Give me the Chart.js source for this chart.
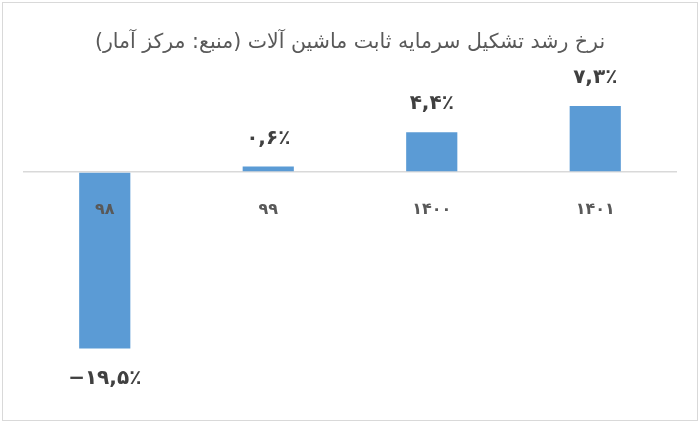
<!DOCTYPE html>
<html>
<head>
<meta charset="utf-8">
<script src="https://cdn.jsdelivr.net/npm/chart.js@4"></script>
<style>
  html, body { margin: 0; padding: 0; background: #fff; }
  #wrap { width: 700px; height: 424px; }
</style>
</head>
<body>
<div id="wrap"><canvas id="myChart" dir="rtl"></canvas></div>
<script>
// data
var years = ['۹۸', '۹۹', '۱۴۰۰', '۱۴۰۱'];
var growth = [-19.5, 0.6, 4.4, 7.3];
var chartTitle = 'نرخ رشد تشکیل سرمایه ثابت ماشین آلات (منبع: مرکز آمار)';

var faDigits = '۰۱۲۳۴۵۶۷۸۹';
function toFa(v) {
    var s = Math.abs(v).toFixed(1).replace('.', ',');
    s = s.replace(/[0-9]/g, function(d) { return faDigits[+d]; });
    return (v < 0 ? '−' : '') + s + '٪';
}

// draws value labels, category labels and the outer frame
var labelsPlugin = {
    id: 'labelsPlugin',
    afterDatasetsDraw: function(chart) {
        var ctx = chart.ctx;
        var x = chart.scales.x, y = chart.scales.y;
        var zero = y.getPixelForValue(0);
        ctx.save();
        ctx.direction = 'ltr';
        ctx.textAlign = 'center';
        ctx.textBaseline = 'middle';
        chart.getDatasetMeta(0).data.forEach(function(bar, i) {
            var v = growth[i];
            ctx.font = 'bold 20px "DejaVu Sans"';
            ctx.fillStyle = '#404040';
            var ly = v >= 0 ? bar.y - 28 : bar.y + 30;
            ctx.fillText(toFa(v), bar.x, ly);
            ctx.font = 'bold 16px "DejaVu Sans"';
            ctx.fillStyle = '#595959';
            ctx.fillText(years[i], x.getPixelForValue(i), zero + 38);
        });
        ctx.strokeStyle = '#d9d9d9';
        ctx.lineWidth = 1;
        ctx.strokeRect(2.5, 2.5, 695, 418);
        ctx.restore();
    }
};

var ctx = document.getElementById('myChart').getContext('2d');
var chart = new Chart(ctx, {
    type: 'bar',
    data: {
        labels: years,
        datasets: [{
            data: growth,
            backgroundColor: '#5b9bd5',
            borderWidth: 0,
            categoryPercentage: 1,
            barPercentage: 0.313
        }]
    },
    options: {
        responsive: true,
        maintainAspectRatio: false,
        animation: false,
        layout: { padding: { left: 23, right: 23, top: 0, bottom: 53 } },
        plugins: {
            legend: { display: false },
            tooltip: { enabled: false },
            title: {
                display: true,
                text: chartTitle,
                color: '#595959',
                font: { family: '"DejaVu Sans"', size: 20.5, weight: 'normal', lineHeight: 1.2 },
                padding: { top: 30, bottom: 27 }
            }
        },
        scales: {
            x: {
                display: false
            },
            y: {
                min: -22,
                max: 10,
                display: true,
                border: { display: false },
                ticks: { display: false },
                grid: {
                    drawTicks: false,
                    lineWidth: 1.5,
                    color: function(c) { return c.tick && c.tick.value === 0 ? '#d9d9d9' : 'rgba(0,0,0,0)'; }
                }
            }
        }
    },
    plugins: [labelsPlugin]
});
</script>
</body>
</html>
